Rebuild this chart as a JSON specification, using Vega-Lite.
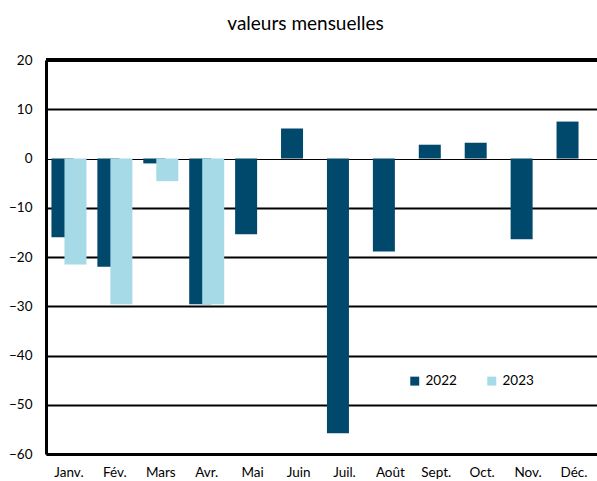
{
  "$schema": "https://vega.github.io/schema/vega-lite/v6.json",
  "autosize": {"type": "none"},
  "width": 551,
  "height": 394,
  "padding": {"left": 46, "top": 60, "right": 0, "bottom": 27},
  "background": "white",
  "title": {"text": "valeurs mensuelles", "font": "Lato", "fontSize": 19, "fontWeight": "normal", "color": "#000", "offset": 19, "dx": -16, "anchor": "middle"},
  "data": {"values": [
    {"mois": "Janv.", "annee": "2022", "v": -16.0},
    {"mois": "Janv.", "annee": "2023", "v": -21.5},
    {"mois": "Fév.", "annee": "2022", "v": -22.0},
    {"mois": "Fév.", "annee": "2023", "v": -29.6},
    {"mois": "Mars", "annee": "2022", "v": -1.0},
    {"mois": "Mars", "annee": "2023", "v": -4.6},
    {"mois": "Avr.", "annee": "2022", "v": -29.6},
    {"mois": "Avr.", "annee": "2023", "v": -29.6},
    {"mois": "Mai", "annee": "2022", "v": -15.4},
    {"mois": "Juin", "annee": "2022", "v": 6.1},
    {"mois": "Juil.", "annee": "2022", "v": -55.8},
    {"mois": "Août", "annee": "2022", "v": -18.9},
    {"mois": "Sept.", "annee": "2022", "v": 2.8},
    {"mois": "Oct.", "annee": "2022", "v": 3.2},
    {"mois": "Nov.", "annee": "2022", "v": -16.4},
    {"mois": "Déc.", "annee": "2022", "v": 7.5}
  ]},
  "layer": [
    {
      "mark": {"type": "bar", "width": 22},
      "encoding": {
        "x": {"field": "mois", "type": "nominal", "sort": null,
          "scale": {"paddingInner": 0, "paddingOuter": 0},
          "axis": {"title": null, "labelAngle": 0, "labelFont": "Lato", "labelFontSize": 13.5, "labelColor": "#000", "labelPadding": 11, "ticks": false, "domainColor": "#000", "domainWidth": 3, "grid": false}},
        "xOffset": {"field": "annee", "type": "nominal", "scale": {"domain": ["2022", "2023"], "paddingInner": 0, "paddingOuter": 0.765}},
        "y": {"field": "v", "type": "quantitative",
          "scale": {"domain": [-60, 20], "nice": false, "zero": false},
          "axis": {"title": null, "values": [-60, -50, -40, -30, -20, -10, 0, 10, 20], "labelFont": "Lato", "labelFontSize": 13.5, "labelColor": "#000", "labelPadding": 14, "ticks": false, "domainColor": "#000", "domainWidth": 3,
            "grid": true, "gridColor": "#000",
            "gridWidth": {"condition": {"test": "datum.value === 0", "value": 1}, "value": 2}}},
        "color": {"field": "annee", "type": "nominal",
          "scale": {"domain": ["2022", "2023"], "range": ["#00496D", "#A6DAE6"]},
          "legend": {"title": null, "orient": "none", "legendX": 362, "legendY": 314, "direction": "horizontal", "symbolType": "square", "symbolSize": 80, "labelFont": "Lato", "labelFontSize": 13.5, "labelColor": "#000", "columnPadding": 28, "symbolOffset": 0}}
      }
    },
    {
      "mark": {"type": "rule", "color": "#000", "strokeWidth": 4, "strokeCap": "butt"},
      "encoding": {"y": {"datum": 20}}
    }
  ],
  "config": {"view": {"stroke": null}, "axis": {"gridCap": "butt"}}
}
